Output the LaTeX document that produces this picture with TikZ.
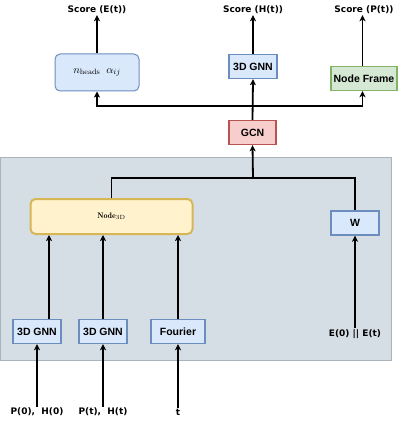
\documentclass[tikz,border=0pt]{standalone}
\usepackage{fontspec}
\usepackage{amsmath}
\usetikzlibrary{arrows.meta,positioning}
\newfontfamily\boxfont{Liberation Sans}
\newfontfamily\lblfont{DejaVu Sans}
\definecolor{BlueFill}{HTML}{DAE8FC}
\definecolor{BlueLine}{HTML}{6C8EBF}
\definecolor{GreenFill}{HTML}{D5E8D4}
\definecolor{GreenLine}{HTML}{82B366}
\definecolor{RedFill}{HTML}{F8CECC}
\definecolor{RedLine}{HTML}{B85450}
\definecolor{YellowFill}{HTML}{FFF2CC}
\definecolor{YellowLine}{HTML}{D6B656}
\definecolor{PanelFill}{HTML}{D5DEE5}
\definecolor{PanelLine}{HTML}{A9B4BD}

\begin{document}
\begin{tikzpicture}[
      x=1pt, y=-1pt,
      every node/.style={align=center, inner sep=1pt},
      box/.style={draw=BlueLine, fill=BlueFill, line width=1.4pt, minimum height=24pt, font=\boxfont\bfseries\fontsize{10.5}{12}\selectfont},
      greenbox/.style={box, draw=GreenLine, fill=GreenFill},
      redbox/.style={box, draw=RedLine, fill=RedFill},
      wide/.style={box, rounded corners=5pt, line width=1pt},
      yellowbox/.style={wide, draw=YellowLine, fill=YellowFill, line width=2pt},
      lbl/.style={font=\lblfont\bfseries\fontsize{9}{10}\selectfont},
      arrow/.style={line width=1.8pt, -{Stealth[length=6pt,width=6pt,inset=1.5pt]}},
      link/.style={line width=1.8pt}
    ]
      \useasboundingbox (0,0) rectangle (404,422);

      % Panel
      \draw[PanelLine, fill=PanelFill, line width=1pt] (0.5,157) rectangle (391,360);

      % Top outputs
      \node[lbl] (scoreE) at (97,10) {Score (E(t))};
      \node[lbl] (scoreH) at (253,10) {Score (H(t))};
      \node[lbl] (scoreP) at (364,10) {Score (P(t))};

      \node[wide, minimum width=84pt, minimum height=37pt] (att) at (97,72.5) {\fontsize{11}{12}\selectfont$n_{\mathrm{heads}}\;\;\alpha_{ij}$};
      \node[box, minimum width=48pt] (gnnTop) at (253,66.5) {3D GNN};
      \node[greenbox, minimum width=66pt] (frame) at (364,78.5) {Node Frame};
      \node[redbox, minimum width=47pt] (gcn) at (252.5,132.5) {GCN};

      % Inside the panel
      \node[yellowbox, minimum width=162pt, minimum height=35pt] (node3d) at (111.5,216.5) {\fontsize{8}{9}\selectfont$\mathbf{Node}_{\mathrm{3D}}$};
      \node[box, minimum width=48pt] (w) at (355,223) {W};
      \node[box, minimum width=48pt] (gnnA) at (37,331.5) {3D GNN};
      \node[box, minimum width=48pt] (gnnB) at (103,331.5) {3D GNN};
      \node[box, minimum width=54pt] (fourier) at (178,331.5) {Fourier};
      \node[lbl] (eIn) at (355,334) {E(0) || E(t)};

      % Bottom inputs
      \node[lbl] (inA) at (37,412) {P(0),\ \ H(0)};
      \node[lbl] (inB) at (103,412) {P(t),\ \ H(t)};
      \node[lbl] (inT) at (178,412) {t};

      \coordinate (join) at (253,178);
      \coordinate (split) at (253,106);

      % Arrows
      \draw[arrow] (inA.north) -- (gnnA.south);
      \draw[arrow] (inB.north) -- (gnnB.south);
      \draw[arrow] (inT.north) -- (fourier.south);
      \draw[arrow] ([xshift=12pt]gnnA.north) -- ([xshift=12pt]gnnA.north |- node3d.south);
      \draw[arrow] (gnnB.north) -- (gnnB.north |- node3d.south);
      \draw[arrow] (fourier.north) -- (fourier.north |- node3d.south);
      \draw[arrow] (eIn.north) -- (w.south);
      \draw[link] (node3d.north) |- (join) -| (w.north);
      \draw[arrow] (join) -- (gcn.south);
      \draw[arrow] (gcn.north) -- (gnnTop.south);
      \draw[arrow] (split) -| (att.south);
      \draw[arrow] (split) -| ([xshift=-1.5pt]frame.south);
      \draw[arrow] (att.north) -- (scoreE.south);
      \draw[arrow] (gnnTop.north) -- (scoreH.south);
      \draw[arrow] ([xshift=-1.5pt]frame.north) -- ([xshift=-1.5pt]scoreP.south);
    \end{tikzpicture}
\end{document}
